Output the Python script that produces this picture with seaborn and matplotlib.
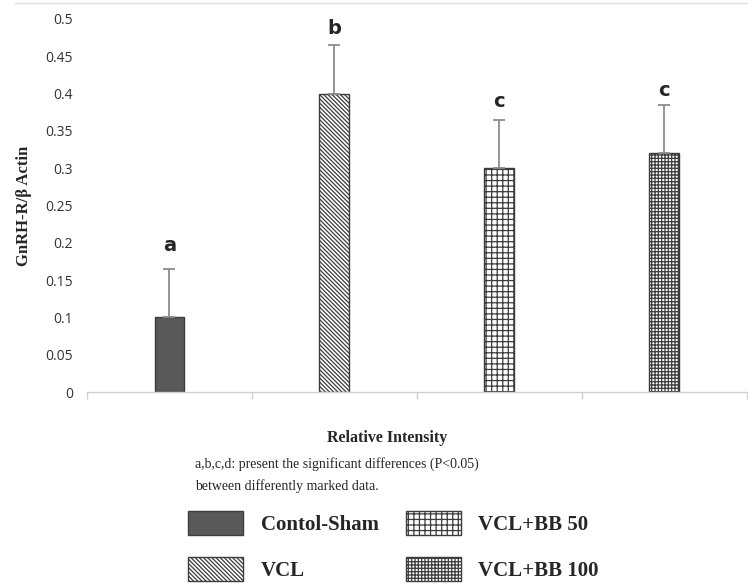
import numpy as np
import pandas as pd
import matplotlib
matplotlib.use("Agg")
import matplotlib.pyplot as plt
import seaborn as sns
from matplotlib.patches import Patch
from matplotlib.lines import Line2D

# data
groups = ["Contol-Sham", "VCL", "VCL+BB 50", "VCL+BB 100"]
means = [0.10, 0.40, 0.30, 0.32]
errors = [0.065, 0.065, 0.065, 0.065]
letters = ["a", "b", "c", "c"]
letter_y = [0.197, 0.487, 0.389, 0.404]

colors = ["#595959", "white", "white", "white"]
hatches = ["", "\\" * 8, "+++", "+++++"]

df = pd.DataFrame({"group": groups, "value": means})

sns.set_style("white")
plt.rcParams["hatch.linewidth"] = 0.9

fig = plt.figure(figsize=(7.48, 5.83), dpi=100)
ax = fig.add_axes([87 / 748, 1 - 392 / 583, 1 - 87 / 748 - 0.002, (392 - 19) / 583])

sns.barplot(data=df, x="group", y="value", hue="group", palette=colors,
            width=0.18, errorbar=None, legend=False, ax=ax,
            edgecolor="#3c3c3c", linewidth=1)

for patch, h in zip(ax.patches, hatches):
    patch.set_hatch(h)

ax.errorbar(x=np.arange(len(groups)), y=means,
            yerr=[np.zeros(len(errors)), errors],
            fmt="none", ecolor="#8c8c8c", elinewidth=1.3, capsize=4, capthick=1.3)

for i, (lt, ly) in enumerate(zip(letters, letter_y)):
    ax.text(i, ly, lt, ha="center", va="center", fontsize=14, fontweight="bold",
            family="DejaVu Sans")

ax.set_ylim(0, 0.5)
ax.set_xlim(-0.5, 3.5)
ax.set_yticks(np.arange(0, 0.51, 0.05))
ax.set_yticklabels(["0", "0.05", "0.1", "0.15", "0.2", "0.25", "0.3",
                    "0.35", "0.4", "0.45", "0.5"])
ax.set_xticks([-0.5, 0.5, 1.5, 2.5, 3.5])
ax.set_xticklabels([])
ax.tick_params(axis="x", length=5, color="#d0d0d0", width=1, direction="out", bottom=True)
ax.tick_params(axis="y", length=0, labelsize=10, labelcolor="#333333", pad=10)
for lab in ax.get_yticklabels():
    lab.set_family("Open Sans")

sns.despine(ax=ax, left=True)
ax.spines["bottom"].set_color("#d0d0d0")
ax.spines["bottom"].set_linewidth(1)

ax.set_xlabel("")
ax.set_ylabel("GnRH-R/β Actin", fontsize=12, fontweight="bold",
              family="Liberation Serif", labelpad=10)

# top border of the chart area
fig.add_artist(Line2D([15 / 748, 1], [1 - 3 / 583, 1 - 3 / 583],
                      color="#dddddd", linewidth=1))

fig.text(387 / 748, 1 - 438 / 583, "Relative Intensity", ha="center", va="center",
         fontsize=11.5, fontweight="bold", family="Liberation Serif")
fig.text(195 / 748, 1 - 464 / 583,
         "a,b,c,d: present the significant differences (P<0.05)",
         ha="left", va="center", fontsize=10, family="Liberation Serif")
fig.text(195 / 748, 1 - 486 / 583, "between differently marked data.",
         ha="left", va="center", fontsize=10, family="Liberation Serif")

handles = [Patch(facecolor=c, edgecolor="#3c3c3c", hatch=h, linewidth=1)
           for c, h in zip(colors, hatches)]
fig.legend(handles, groups, ncol=2, loc="upper left",
           bbox_to_anchor=(188 / 748, 1 - 511 / 583), frameon=False,
           borderpad=0, borderaxespad=0, handlelength=2.64, handleheight=1.4,
           handletextpad=0.85, labelspacing=1.05, columnspacing=1.3,
           prop={"family": "Liberation Serif", "weight": "bold", "size": 15})

fig.savefig("out.png", dpi=100)
